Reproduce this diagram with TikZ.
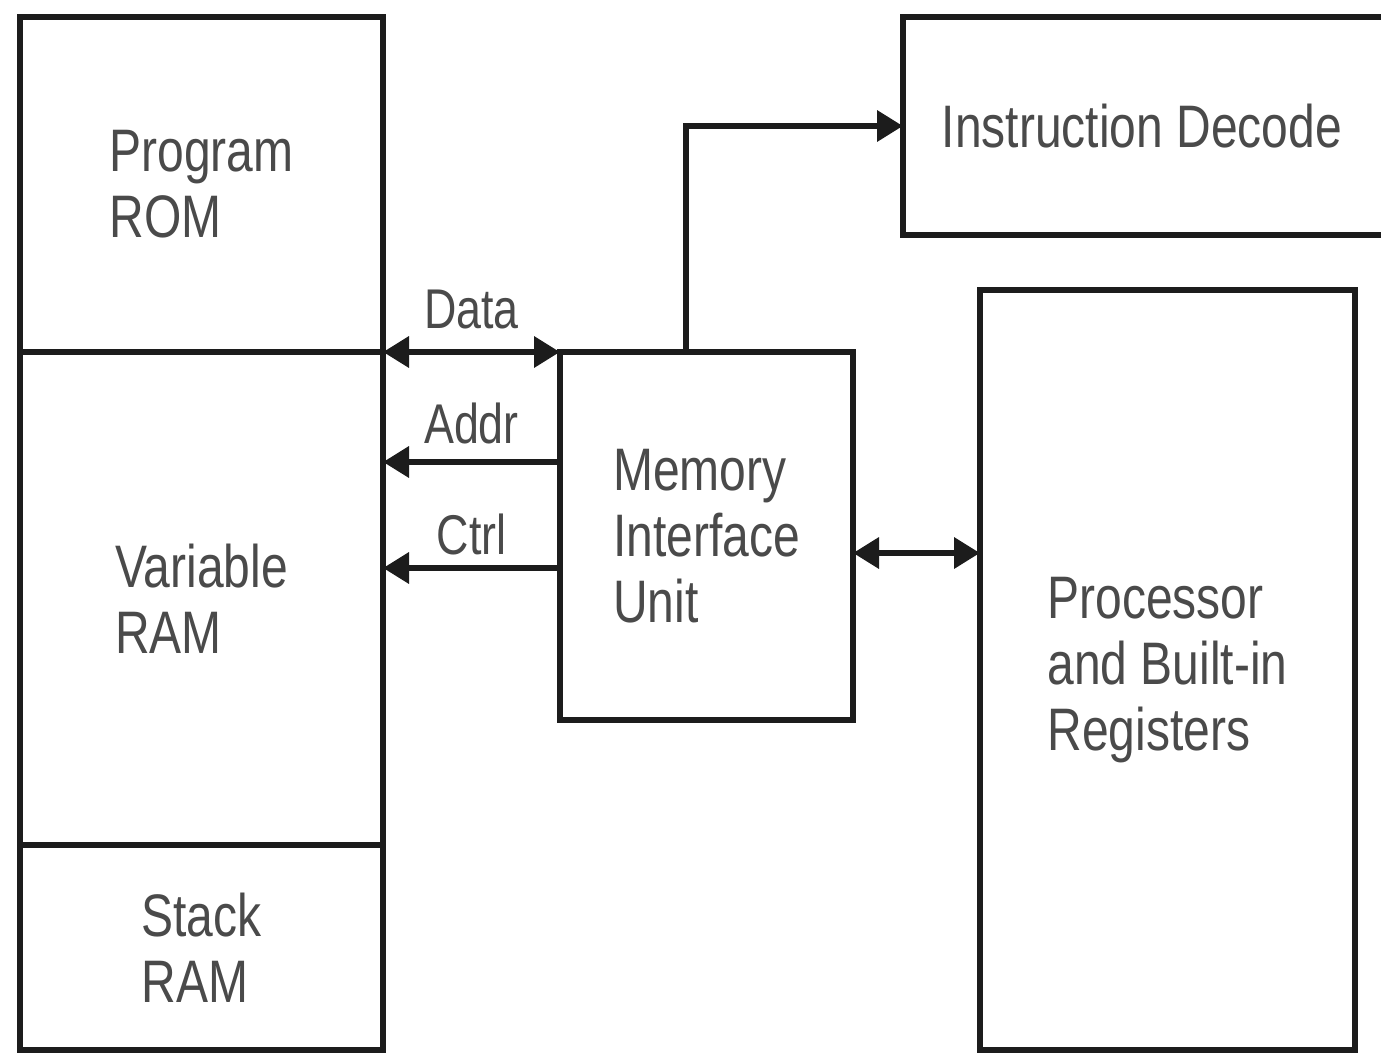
\documentclass[tikz,border=0pt]{standalone}
\usepackage{fontspec}
\setmainfont{Liberation Sans}[FakeStretch=0.8]
\usetikzlibrary{arrows.meta,calc}
\definecolor{ink}{HTML}{1C1C1C}
\definecolor{txt}{HTML}{4A4A4A}
\begin{document}
\begin{tikzpicture}[x=1pt,y=-1pt,
  box/.style={draw=ink,line width=6.5pt,rectangle,outer sep=0pt,inner sep=0pt,anchor=north west,align=left,text=txt,font=\fontsize{60}{66}\selectfont},
  arr/.style={draw=ink,line width=6.5pt,-{Triangle[length=26pt,width=30pt]}},
  biarr/.style={draw=ink,line width=6.5pt,{Triangle[length=26pt,width=30pt]}-{Triangle[length=26pt,width=30pt]}},
  lbl/.style={text=txt,font=\fontsize{56}{60}\selectfont,inner sep=0pt}]
\useasboundingbox (0,0) rectangle (1381,1053);
\clip (0,0) rectangle (1381,1053);
\fill[white] (0,0) rectangle (1381,1053);
\node[box,minimum width=363pt,minimum height=335pt] (rom) at (20,17) {Program\\ROM};
\node[box,minimum width=363pt,minimum height=493pt] (var) at (20,352) {Variable\\RAM};
\node[box,minimum width=363pt,minimum height=205pt] (stack) at (20,845) {Stack\\RAM};
\node[box,minimum width=293pt,minimum height=368pt] (miu) at (560,352) {Memory\\Interface\\Unit};
\node[box,minimum width=490pt,minimum height=218pt] (dec) at (903,17) {Instruction Decode\hspace*{12pt}};
\node[box,minimum width=375pt,minimum height=760pt] (proc) at (980,290) {Processor\\and Built-in\\Registers};
\coordinate (yd) at (0,352);
\coordinate (ya) at (0,462);
\coordinate (yc) at (0,568);
\coordinate (yb) at (0,553);
\coordinate (ux) at (686,0);
\draw[biarr] (var.east |- yd) -- node[lbl,above=20pt]{Data} (miu.west |- yd);
\draw[arr] (miu.west |- ya) -- node[lbl,above=15pt]{Addr} (var.east |- ya);
\draw[arr] (miu.west |- yc) -- node[lbl,above=10pt]{Ctrl} (var.east |- yc);
\draw[biarr] (miu.east |- yb) -- (proc.west |- yb);
\draw[arr] (miu.north -| ux) |- (dec.west);
\end{tikzpicture}
\end{document}
